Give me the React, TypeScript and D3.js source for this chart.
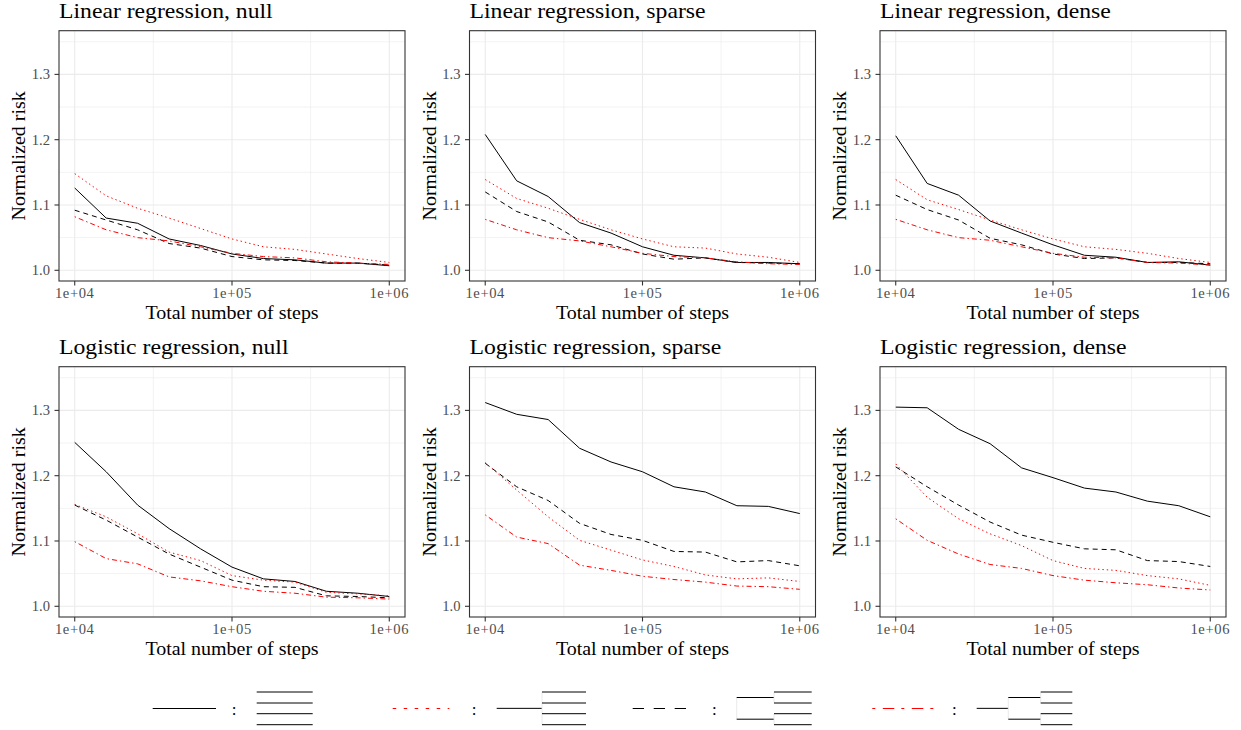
import React from "react";
import * as d3 from "d3";

// ---------- data ----------
const steps = [10000, 15849, 25119, 39811, 63096, 100000, 158489, 251189, 398107, 630957, 1000000];

const panelTitles = [
  "Linear regression, null",
  "Linear regression, sparse",
  "Linear regression, dense",
  "Logistic regression, null",
  "Logistic regression, sparse",
  "Logistic regression, dense",
];

const xTicks = [1e4, 1e5, 1e6];
const xTickLabels = ["1e+04", "1e+05", "1e+06"];
const xMinor = [31623, 316228];
const yTicks = [1.0, 1.1, 1.2, 1.3];
const yTickLabels = ["1.0", "1.1", "1.2", "1.3"];
const yMinor = [1.05, 1.15, 1.25, 1.35];

const xTitle = "Total number of steps";
const yTitle = "Normalized risk";

// series order: solid (black), dotted (red), dashed (black), dotdash (red)
const linNullSolid = [1.126, 1.080, 1.072, 1.048, 1.038, 1.025, 1.018, 1.016, 1.011, 1.011, 1.007];
const linNullDotted = [1.148, 1.114, 1.095, 1.080, 1.064, 1.048, 1.036, 1.032, 1.025, 1.018, 1.012];
const linNullDashed = [1.092, 1.077, 1.062, 1.041, 1.034, 1.021, 1.016, 1.015, 1.011, 1.011, 1.008];
const linNullDotdash = [1.082, 1.062, 1.050, 1.045, 1.036, 1.026, 1.021, 1.019, 1.013, 1.011, 1.009];

const linSparseSolid = [1.208, 1.137, 1.113, 1.073, 1.057, 1.036, 1.023, 1.019, 1.012, 1.012, 1.010];
const linSparseDotted = [1.139, 1.110, 1.095, 1.078, 1.062, 1.048, 1.036, 1.034, 1.025, 1.020, 1.012];
const linSparseDashed = [1.120, 1.090, 1.074, 1.046, 1.039, 1.025, 1.017, 1.019, 1.012, 1.011, 1.010];
const linSparseDotdash = [1.078, 1.062, 1.050, 1.045, 1.036, 1.026, 1.021, 1.019, 1.013, 1.010, 1.009];

const linDenseSolid = [1.206, 1.133, 1.115, 1.0755, 1.057, 1.039, 1.023, 1.020, 1.012, 1.013, 1.008];
const linDenseDotted = [1.139, 1.108, 1.093, 1.077, 1.062, 1.048, 1.036, 1.032, 1.026, 1.018, 1.012];
const linDenseDashed = [1.115, 1.093, 1.077, 1.049, 1.039, 1.025, 1.018, 1.019, 1.012, 1.012, 1.010];
const linDenseDotdash = [1.078, 1.062, 1.050, 1.046, 1.036, 1.026, 1.020, 1.019, 1.012, 1.011, 1.008];

const logNullSolid = [1.251, 1.206, 1.155, 1.119, 1.088, 1.060, 1.042, 1.038, 1.023, 1.020, 1.015];
const logNullDotted = [1.156, 1.137, 1.111, 1.083, 1.070, 1.047, 1.040, 1.037, 1.0215, 1.019, 1.016];
const logNullDashed = [1.155, 1.132, 1.106, 1.080, 1.060, 1.040, 1.030, 1.029, 1.016, 1.015, 1.013];
const logNullDotdash = [1.099, 1.073, 1.065, 1.045, 1.039, 1.030, 1.023, 1.020, 1.014, 1.013, 1.011];

const logSparseSolid = [1.312, 1.294, 1.286, 1.242, 1.221, 1.206, 1.183, 1.175, 1.154, 1.153, 1.142];
const logSparseDotted = [1.220, 1.178, 1.137, 1.101, 1.086, 1.071, 1.061, 1.048, 1.042, 1.0435, 1.038];
const logSparseDashed = [1.219, 1.183, 1.162, 1.127, 1.110, 1.101, 1.084, 1.083, 1.068, 1.070, 1.062];
const logSparseDotdash = [1.140, 1.106, 1.096, 1.063, 1.055, 1.046, 1.041, 1.037, 1.031, 1.030, 1.026];

const logDenseSolid = [1.305, 1.304, 1.271, 1.249, 1.212, 1.197, 1.181, 1.175, 1.161, 1.154, 1.137];
const logDenseDotted = [1.218, 1.167, 1.134, 1.111, 1.093, 1.070, 1.058, 1.055, 1.047, 1.042, 1.032];
const logDenseDashed = [1.2135, 1.183, 1.155, 1.129, 1.109, 1.098, 1.088, 1.0865, 1.070, 1.0685, 1.061];
const logDenseDotdash = [1.134, 1.101, 1.080, 1.064, 1.058, 1.047, 1.040, 1.036, 1.033, 1.028, 1.025];

const panelSeries = [
  [linNullSolid, linNullDotted, linNullDashed, linNullDotdash],
  [linSparseSolid, linSparseDotted, linSparseDashed, linSparseDotdash],
  [linDenseSolid, linDenseDotted, linDenseDashed, linDenseDotdash],
  [logNullSolid, logNullDotted, logNullDashed, logNullDotdash],
  [logSparseSolid, logSparseDotted, logSparseDashed, logSparseDotdash],
  [logDenseSolid, logDenseDotted, logDenseDashed, logDenseDotdash],
];

// legend: tree shape for each line type
const legendTrees = ["flat", "root", "branches", "full"];

// ---------- styles ----------
const seriesColor = ["#000000", "#FF0000", "#000000", "#FF0000"];
const seriesDash = [null, "1.4,3", "5,4", "1.4,3,5,3"];
const legendDash = [null, "3.5,7.5", "11.3,9.7", "3,7.5,11.5,7"];
const drawOrder = [0, 2, 1, 3];

const FONT = "'Liberation Serif', 'Times New Roman', serif";
const W = 1241;
const H = 730;
const panelLeft = [59, 469.5, 880];
const panelTop = [30.7, 366.7];
const PW = 346;
const PH = 250.3;

function Panel({ idx }: { idx: number }) {
  const col = idx % 3;
  const row = Math.floor(idx / 3);
  const left = panelLeft[col];
  const top = panelTop[row];
  const x = d3.scaleLog().domain([Math.pow(10, 3.9), Math.pow(10, 6.1)]).range([left, left + PW]);
  const y = d3.scaleLinear().domain([0.9836, 1.3669]).range([top + PH, top]);
  const line = d3
    .line<number>()
    .x((_, i) => x(steps[i]))
    .y((d) => y(d));
  const series = panelSeries[idx];
  const clipId = `clip${idx}`;
  return (
    <g>
      <defs>
        <clipPath id={clipId}>
          <rect x={left} y={top} width={PW} height={PH} />
        </clipPath>
      </defs>
      <rect x={left} y={top} width={PW} height={PH} fill="#FFFFFF" />
      {xMinor.map((v) => (
        <line key={"xm" + v} x1={x(v)} x2={x(v)} y1={top} y2={top + PH} stroke="#EBEBEB" strokeWidth={0.6} />
      ))}
      {yMinor.map((v) => (
        <line key={"ym" + v} x1={left} x2={left + PW} y1={y(v)} y2={y(v)} stroke="#EBEBEB" strokeWidth={0.6} />
      ))}
      {xTicks.map((v) => (
        <line key={"xg" + v} x1={x(v)} x2={x(v)} y1={top} y2={top + PH} stroke="#EBEBEB" strokeWidth={1.1} />
      ))}
      {yTicks.map((v) => (
        <line key={"yg" + v} x1={left} x2={left + PW} y1={y(v)} y2={y(v)} stroke="#EBEBEB" strokeWidth={1.1} />
      ))}
      <g clipPath={`url(#${clipId})`}>
        {drawOrder.map((s) => (
          <path
            key={"s" + s}
            d={line(series[s]) || ""}
            fill="none"
            stroke={seriesColor[s]}
            strokeWidth={1}
            strokeDasharray={seriesDash[s] || undefined}
          />
        ))}
      </g>
      <rect x={left} y={top} width={PW} height={PH} fill="none" stroke="#333333" strokeWidth={1.1} />
      {yTicks.map((v, i) => (
        <g key={"yt" + v}>
          <line x1={left - 4.5} x2={left} y1={y(v)} y2={y(v)} stroke="#333333" strokeWidth={1.1} />
          <text
            x={left - 9}
            y={y(v)}
            dy="0.35em"
            textAnchor="end"
            fontFamily={FONT}
            fontSize={14.6}
            fill="#4D4D4D"
          >
            {yTickLabels[i]}
          </text>
        </g>
      ))}
      {xTicks.map((v, i) => (
        <g key={"xt" + v}>
          <line x1={x(v)} x2={x(v)} y1={top + PH} y2={top + PH + 4.5} stroke="#333333" strokeWidth={1.1} />
          <text
            x={x(v)}
            y={top + PH + 17}
            textAnchor="middle"
            fontFamily={FONT}
            fontSize={14.6}
            fill="#4D4D4D"
            letterSpacing={0.6}
          >
            {xTickLabels[i]}
          </text>
        </g>
      ))}
      <text
        transform={`translate(${left + PW / 2},${top + PH + 37.5}) scale(1.11,1)`}
        textAnchor="middle"
        fontFamily={FONT}
        fontSize={18}
        fill="#000"
      >
        {xTitle}
      </text>
      <text
        transform={`translate(${left - 34},${top + PH / 2}) rotate(-90) scale(1.11,1)`}
        textAnchor="middle"
        fontFamily={FONT}
        fontSize={18}
        fill="#000"
      >
        {yTitle}
      </text>
      <text
        transform={`translate(${left},${top - 12.5}) scale(1.15,1)`}
        fontFamily={FONT}
        fontSize={20.6}
        fill="#000"
      >
        {panelTitles[idx]}
      </text>
    </g>
  );
}

const legendLineX = [[152.7, 216], [392.7, 449.3], [632.7, 686.7], [872.3, 935]];
const legendColonX = [234, 474, 714.3, 954.3];
const legendTreeX = [256.7, 496.7, 736.7, 976.7];
const leafY = [692, 703, 713.7, 724.7];

function Tree({ kind, x0 }: { kind: string; x0: number }) {
  const branchY = [(leafY[0] + leafY[1]) / 2, (leafY[2] + leafY[3]) / 2];
  const rootY = (branchY[0] + branchY[1]) / 2;
  const els: React.ReactNode[] = [];
  const faint = "#e4e4e4";
  if (kind === "flat") {
    leafY.forEach((ly, i) => els.push(<line key={"l" + i} x1={x0} x2={x0 + 56} y1={ly} y2={ly} stroke="#000" strokeWidth={1} />));
  } else if (kind === "root") {
    const xb = x0 + 45.3;
    els.push(<line key="r" x1={x0} x2={xb} y1={rootY} y2={rootY} stroke="#000" strokeWidth={1} />);
    els.push(<line key="v" x1={xb} x2={xb} y1={leafY[0]} y2={leafY[3]} stroke={faint} strokeWidth={0.8} />);
    leafY.forEach((ly, i) => els.push(<line key={"l" + i} x1={xb} x2={xb + 44} y1={ly} y2={ly} stroke="#000" strokeWidth={1} />));
  } else if (kind === "branches") {
    const xb = x0 + 37.3;
    els.push(<line key="v0" x1={x0} x2={x0} y1={branchY[0]} y2={branchY[1]} stroke={faint} strokeWidth={0.8} />);
    branchY.forEach((by, i) => els.push(<line key={"b" + i} x1={x0} x2={xb} y1={by} y2={by} stroke="#000" strokeWidth={1} />));
    els.push(<line key="v1" x1={xb} x2={xb} y1={leafY[0]} y2={leafY[1]} stroke={faint} strokeWidth={0.8} />);
    els.push(<line key="v2" x1={xb} x2={xb} y1={leafY[2]} y2={leafY[3]} stroke={faint} strokeWidth={0.8} />);
    leafY.forEach((ly, i) => els.push(<line key={"l" + i} x1={xb} x2={xb + 37.7} y1={ly} y2={ly} stroke="#000" strokeWidth={1} />));
  } else {
    const xa = x0 + 31.6;
    const xb = xa + 32.4;
    els.push(<line key="r" x1={x0} x2={xa} y1={rootY} y2={rootY} stroke="#000" strokeWidth={1} />);
    els.push(<line key="v0" x1={xa} x2={xa} y1={branchY[0]} y2={branchY[1]} stroke={faint} strokeWidth={0.8} />);
    branchY.forEach((by, i) => els.push(<line key={"b" + i} x1={xa} x2={xb} y1={by} y2={by} stroke="#000" strokeWidth={1} />));
    els.push(<line key="v1" x1={xb} x2={xb} y1={leafY[0]} y2={leafY[1]} stroke={faint} strokeWidth={0.8} />);
    els.push(<line key="v2" x1={xb} x2={xb} y1={leafY[2]} y2={leafY[3]} stroke={faint} strokeWidth={0.8} />);
    leafY.forEach((ly, i) => els.push(<line key={"l" + i} x1={xb} x2={xb + 31.6} y1={ly} y2={ly} stroke="#000" strokeWidth={1} />));
  }
  return <g>{els}</g>;
}

function Legend() {
  const ly = 708.5;
  return (
    <g>
      {legendTrees.map((kind, i) => (
        <g key={"lg" + i}>
          <line
            x1={legendLineX[i][0]}
            x2={legendLineX[i][1]}
            y1={ly}
            y2={ly}
            stroke={seriesColor[i]}
            strokeWidth={1}
            strokeDasharray={legendDash[i] || undefined}
          />
          <text x={legendColonX[i]} y={715} textAnchor="middle" fontFamily={FONT} fontSize={17} fill="#000">
            :
          </text>
          <Tree kind={kind} x0={legendTreeX[i]} />
        </g>
      ))}
    </g>
  );
}

export default function App() {
  return (
    <div style={{ position: "absolute", left: 0, top: 0 }}>
      <svg width={W} height={H} style={{ display: "block", background: "#FFFFFF" }}>
        <rect x={0} y={0} width={W} height={H} fill="#FFFFFF" />
        {panelTitles.map((_, i) => (
          <Panel key={i} idx={i} />
        ))}
        <Legend />
      </svg>
    </div>
  );
}
